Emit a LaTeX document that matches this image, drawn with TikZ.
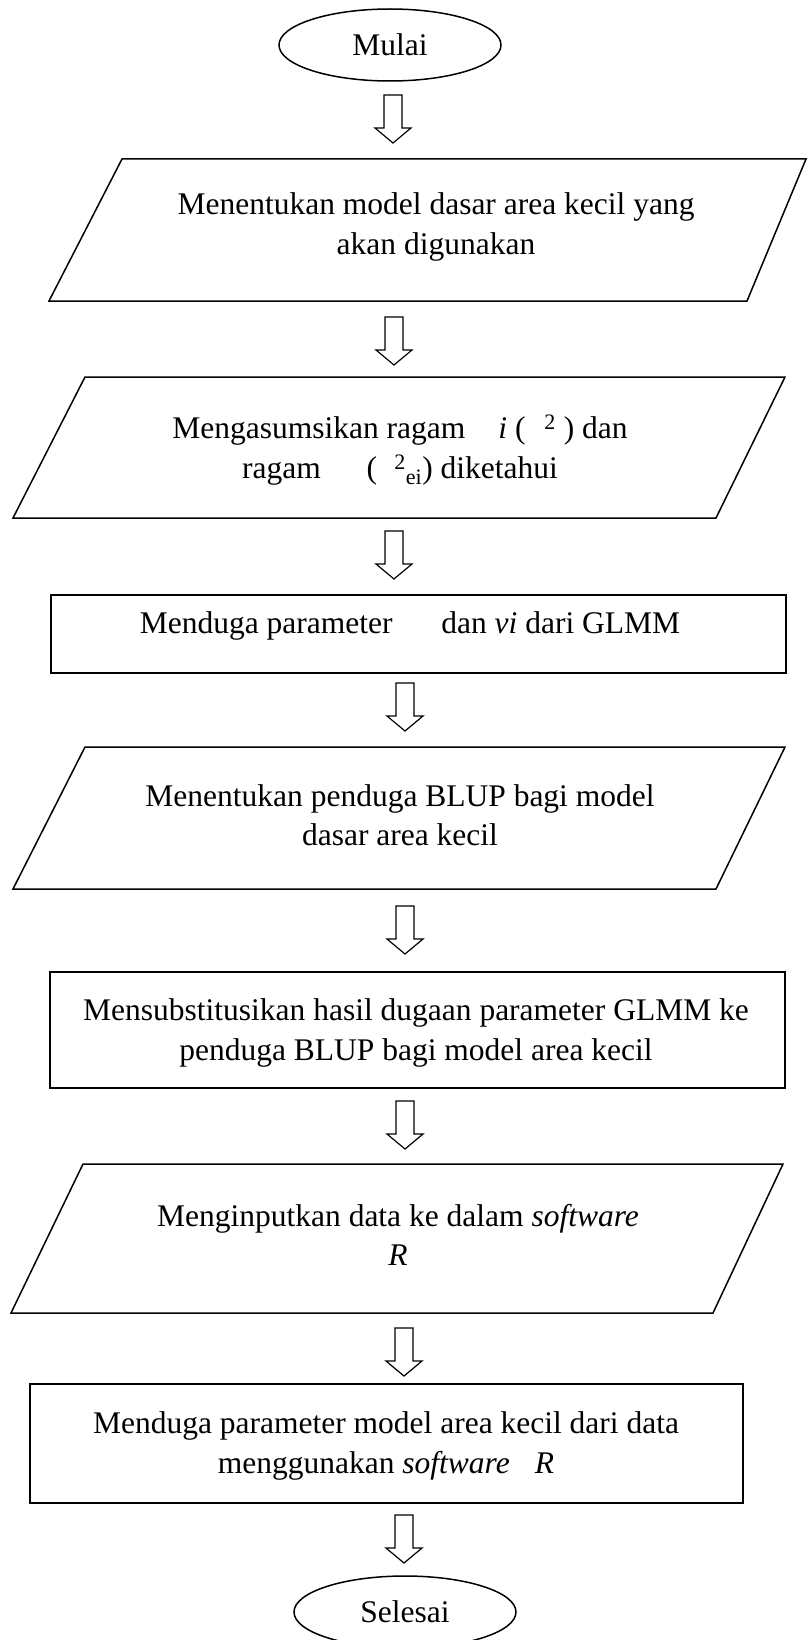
\documentclass[tikz,border=0pt]{standalone}
\usepackage{fontspec}
\setmainfont{Liberation Serif}
\usepackage{tikz}
\usetikzlibrary{shapes.geometric}

\begin{document}
\begin{tikzpicture}[x=1pt,y=-1pt,line width=1.5pt,
  font=\fontsize{31.5}{39.5}\selectfont,
  terminal/.style={draw,ellipse,minimum width=222pt,minimum height=72pt,inner sep=0pt},
  steptext/.style={align=center,inner sep=0pt},
  hollow/.style={line width=1.2pt,fill=white}]
\useasboundingbox (0,0) rectangle (807,1640);
% start / end
\node[terminal] (mulai) at (390,45) {Mulai};
\node[terminal] (selesai) at (405,1612) {Selesai};
% parallelograms (input steps)
\draw (122,159) -- (806,159) -- (747,301) -- (49,301) -- cycle;
\draw (85,377) -- (785,377) -- (716,518) -- (13,518) -- cycle;
\draw (85,747) -- (785,747) -- (716,889) -- (13,889) -- cycle;
\draw (83,1164) -- (783,1164) -- (713,1313) -- (11,1313) -- cycle;
% rectangles (process steps)
\draw (51,595) rectangle (786,673);
\draw (50,972) rectangle (785,1088);
\draw (30,1384) rectangle (743,1503);
% step texts
\node[steptext] (model) at (436,227) {Menentukan model dasar area kecil yang\\akan digunakan};
\node[steptext] (ragam) at (400,450) {Mengasumsikan ragam \hspace{0.8em}\textit{i} ( \hspace{0.35em}\textsuperscript{2} ) dan\\ragam \hspace{1.2em}( \hspace{0.3em}\textsuperscript{2}\textsubscript{ei}) diketahui};
\node[steptext] (glmm) at (410,626) {Menduga parameter \hspace{1.3em}dan \textit{vi} dari GLMM};
\node[steptext] (blup) at (400,815) {Menentukan penduga BLUP bagi model\\dasar area kecil};
\node[steptext] (subst) at (416,1033) {Mensubstitusikan hasil dugaan parameter GLMM ke\\penduga BLUP bagi model area kecil};
\node[steptext] (input) at (398,1235) {Menginputkan data ke dalam \textit{software}\\\textit{R}};
\node[steptext] (duga) at (386,1446) {Menduga parameter model area kecil dari data\\menggunakan \textit{software} \hspace{0.55em}\textit{R}};
% hollow arrows between steps
\foreach \x/\y in {393/95,394/317,394/531,405/683,405/906,405/1101,404/1328,404/1515}
  \draw[hollow] (\x-9,\y) -- (\x+9,\y) -- (\x+9,\y+33) -- (\x+18,\y+33) -- (\x,\y+48)
    -- (\x-18,\y+33) -- (\x-9,\y+33) -- cycle;
\end{tikzpicture}
\end{document}
